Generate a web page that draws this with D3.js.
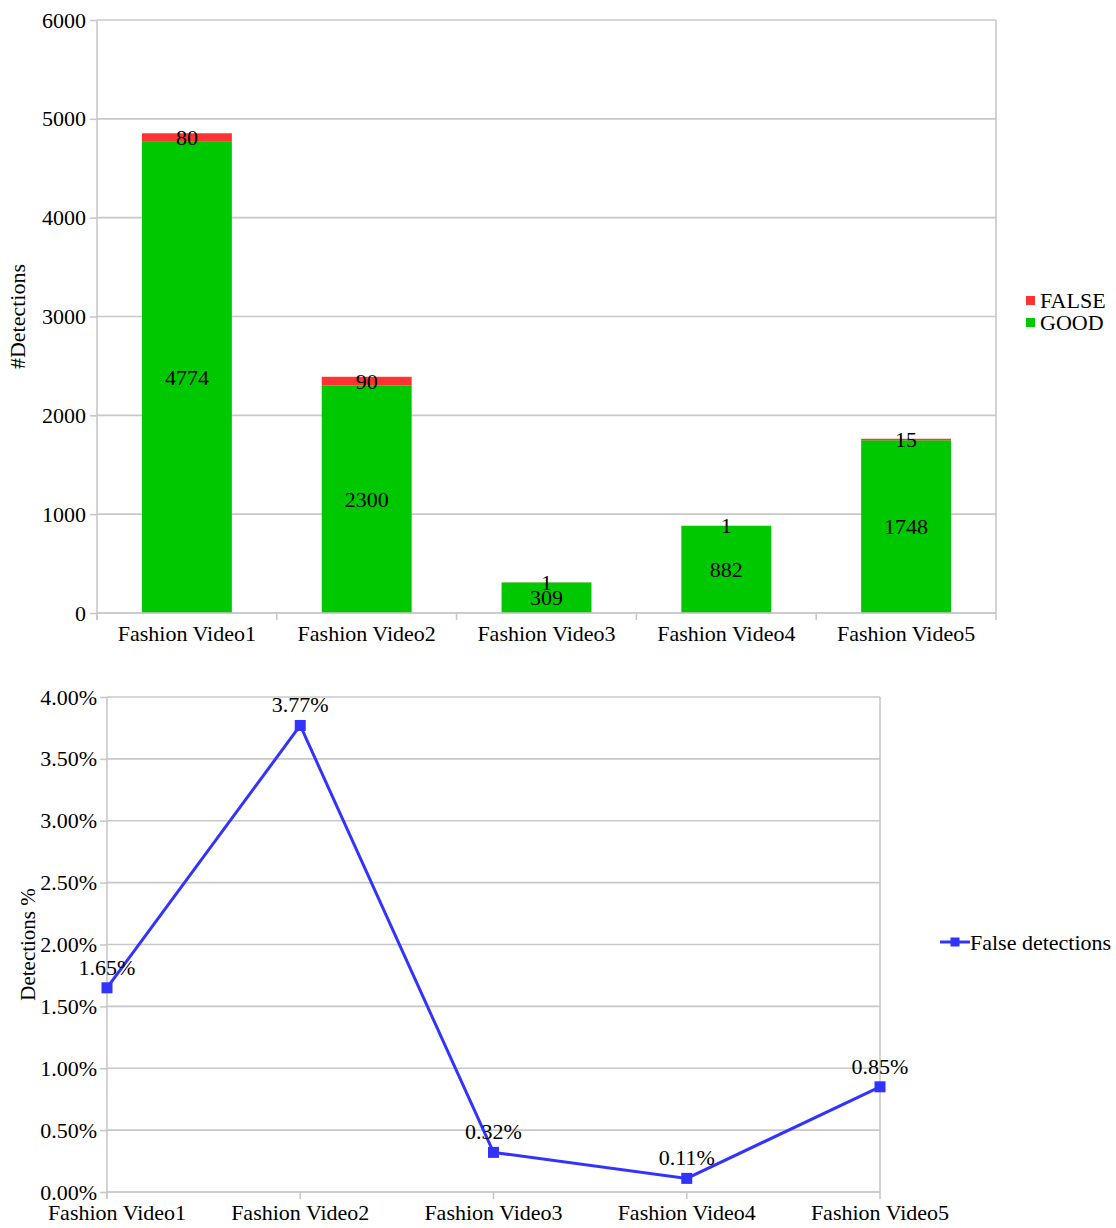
<!DOCTYPE html>
<html>
<head>
<meta charset="utf-8">
<script src="https://cdn.jsdelivr.net/npm/d3@7/dist/d3.min.js"></script>
<style>
  html, body { margin: 0; padding: 0; background: #fff; }
  svg text { font-family: "Liberation Serif", "Times New Roman", serif; fill: #000; }
</style>
</head>
<body>
<svg id="chart" width="1116" height="1228"></svg>
<script>
// Detection counts per video
const categories = ["Fashion Video1", "Fashion Video2", "Fashion Video3", "Fashion Video4", "Fashion Video5"];
const goodValues = [4774, 2300, 309, 882, 1748];
const falseValues = [80, 90, 1, 1, 15];
const countTicks = [0, 1000, 2000, 3000, 4000, 5000, 6000];

// Share of false detections (percent)
const falsePercent = [1.65, 3.77, 0.32, 0.11, 0.85];
const percentTicks = [0, 0.5, 1.0, 1.5, 2.0, 2.5, 3.0, 3.5, 4.0];

const GREEN = "#00c800";
const RED = "#ff3333";
const BLUE = "#3333ff";
const GRID = "#c8c8c8";
const FS = 22;

const svg = d3.select("#chart");

// ---------- Stacked bar chart ----------
{
  const L = 97, R = 996, T = 20, B = 613;
  const x = d3.scaleBand().domain(categories).range([L, R]).paddingInner(0.5).paddingOuter(0.25);
  const y = d3.scaleLinear().domain([0, 6000]).range([B, T]);
  const g = svg.append("g");

  // horizontal gridlines
  g.selectAll("line.grid").data(countTicks).join("line")
    .attr("x1", L).attr("x2", R)
    .attr("y1", d => y(d)).attr("y2", d => y(d))
    .attr("stroke", GRID).attr("stroke-width", 1.6);
  // right border
  g.append("line").attr("x1", R).attr("x2", R).attr("y1", T).attr("y2", B)
    .attr("stroke", GRID).attr("stroke-width", 1.6);

  // bars
  const rows = categories.map((c, i) => ({ c, good: goodValues[i], bad: falseValues[i] }));
  g.selectAll("rect.good").data(rows).join("rect")
    .attr("x", d => x(d.c)).attr("width", x.bandwidth())
    .attr("y", d => y(d.good)).attr("height", d => y(0) - y(d.good))
    .attr("fill", GREEN);
  g.selectAll("rect.bad").data(rows).join("rect")
    .attr("x", d => x(d.c)).attr("width", x.bandwidth())
    .attr("y", d => y(d.good + d.bad)).attr("height", d => y(d.good) - y(d.good + d.bad))
    .attr("fill", RED);

  // value labels centred in each segment
  g.selectAll("text.good").data(rows).join("text")
    .attr("x", d => x(d.c) + x.bandwidth() / 2)
    .attr("y", d => (y(0) + y(d.good)) / 2)
    .attr("dy", "0.35em").attr("text-anchor", "middle").attr("font-size", FS)
    .text(d => d.good);
  g.selectAll("text.bad").data(rows).join("text")
    .attr("x", d => x(d.c) + x.bandwidth() / 2)
    .attr("y", d => (y(d.good) + y(d.good + d.bad)) / 2)
    .attr("dy", "0.35em").attr("text-anchor", "middle").attr("font-size", FS)
    .text(d => d.bad);

  // y axis
  const ya = d3.axisLeft(y).tickValues(countTicks).tickSize(7).tickPadding(4).tickFormat(d3.format("d"));
  const yg = g.append("g").attr("transform", `translate(${L},0)`).call(ya);
  yg.select(".domain").attr("stroke", GRID).attr("stroke-width", 1.6).attr("d", `M0,${T}V${B + 7}`);
  yg.selectAll(".tick line").attr("stroke", GRID).attr("stroke-width", 1.6);
  yg.selectAll(".tick text").attr("font-size", FS).attr("font-family", "Liberation Serif").attr("fill", "#000");

  // x axis with ticks at category boundaries
  g.append("line").attr("x1", L).attr("x2", R).attr("y1", B).attr("y2", B)
    .attr("stroke", GRID).attr("stroke-width", 1.6);
  const step = x.step();
  const bounds = d3.range(categories.length + 1).map(i => L + i * (R - L) / categories.length);
  g.selectAll("line.xt").data(bounds).join("line")
    .attr("x1", d => d).attr("x2", d => d).attr("y1", B).attr("y2", B + 7)
    .attr("stroke", GRID).attr("stroke-width", 1.6);
  g.selectAll("text.cat").data(categories).join("text")
    .attr("x", d => x(d) + x.bandwidth() / 2).attr("y", 641)
    .attr("text-anchor", "middle").attr("font-size", FS).text(d => d);

  // axis title
  g.append("text").attr("transform", `translate(25,${(T + B) / 2}) rotate(-90)`)
    .attr("text-anchor", "middle").attr("font-size", FS).text("#Detections");

  // legend
  const leg = [{ k: "FALSE", c: RED }, { k: "GOOD", c: GREEN }];
  const lg = g.selectAll("g.leg").data(leg).join("g")
    .attr("transform", (d, i) => `translate(1026,${296 + i * 22})`);
  lg.append("rect").attr("width", 9).attr("height", 9).attr("fill", d => d.c);
  lg.append("text").attr("x", 14).attr("y", 4.5).attr("dy", "0.35em").attr("font-size", FS).text(d => d.k);
}

// ---------- Line chart ----------
{
  const L = 107, R = 880, T = 697, B = 1192;
  const x = d3.scalePoint().domain(categories).range([L, R]);
  const y = d3.scaleLinear().domain([0, 4]).range([B, T]);
  const g = svg.append("g");

  g.selectAll("line.grid").data(percentTicks).join("line")
    .attr("x1", L).attr("x2", R)
    .attr("y1", d => y(d)).attr("y2", d => y(d))
    .attr("stroke", GRID).attr("stroke-width", 1.6);
  g.append("line").attr("x1", R).attr("x2", R).attr("y1", T).attr("y2", B)
    .attr("stroke", GRID).attr("stroke-width", 1.6);

  const ya = d3.axisLeft(y).tickValues(percentTicks).tickSize(7).tickPadding(3)
    .tickFormat(d => d.toFixed(2) + "%");
  const yg = g.append("g").attr("transform", `translate(${L},0)`).call(ya);
  yg.select(".domain").attr("stroke", GRID).attr("stroke-width", 1.6).attr("d", `M0,${T}V${B + 7}`);
  yg.selectAll(".tick line").attr("stroke", GRID).attr("stroke-width", 1.6);
  yg.selectAll(".tick text").attr("font-size", FS).attr("font-family", "Liberation Serif").attr("fill", "#000");

  g.append("line").attr("x1", L).attr("x2", R).attr("y1", B).attr("y2", B)
    .attr("stroke", GRID).attr("stroke-width", 1.6);
  g.selectAll("line.xt").data(categories).join("line")
    .attr("x1", d => x(d)).attr("x2", d => x(d)).attr("y1", B).attr("y2", B + 7)
    .attr("stroke", GRID).attr("stroke-width", 1.6);
  g.selectAll("text.cat").data(categories).join("text")
    .attr("x", (d, i) => i === 0 ? x(d) + 10 : x(d))
    .attr("y", 1220).attr("text-anchor", "middle").attr("font-size", FS).text(d => d);

  const pts = categories.map((c, i) => ({ c, v: falsePercent[i] }));
  g.append("path").datum(pts)
    .attr("d", d3.line().x(d => x(d.c)).y(d => y(d.v)))
    .attr("fill", "none").attr("stroke", BLUE).attr("stroke-width", 3);
  g.selectAll("rect.pt").data(pts).join("rect")
    .attr("x", d => x(d.c) - 5.5).attr("y", d => y(d.v) - 5.5)
    .attr("width", 11).attr("height", 11).attr("fill", BLUE);
  g.selectAll("text.val").data(pts).join("text")
    .attr("x", d => x(d.c)).attr("y", d => y(d.v) - 13)
    .attr("text-anchor", "middle").attr("font-size", FS)
    .text(d => d.v.toFixed(2) + "%");

  g.append("text").attr("transform", `translate(35,${(T + B) / 2}) rotate(-90)`)
    .attr("text-anchor", "middle").attr("font-size", 21).text("Detections %");

  // legend
  const lg = g.append("g").attr("transform", "translate(940,942)");
  lg.append("line").attr("x1", 0).attr("x2", 30).attr("stroke", BLUE).attr("stroke-width", 3);
  lg.append("rect").attr("x", 10.5).attr("y", -4.5).attr("width", 9).attr("height", 9).attr("fill", BLUE);
  lg.append("text").attr("x", 30).attr("dy", "0.35em").attr("font-size", FS).text("False detections");
}
</script>
</body>
</html>
